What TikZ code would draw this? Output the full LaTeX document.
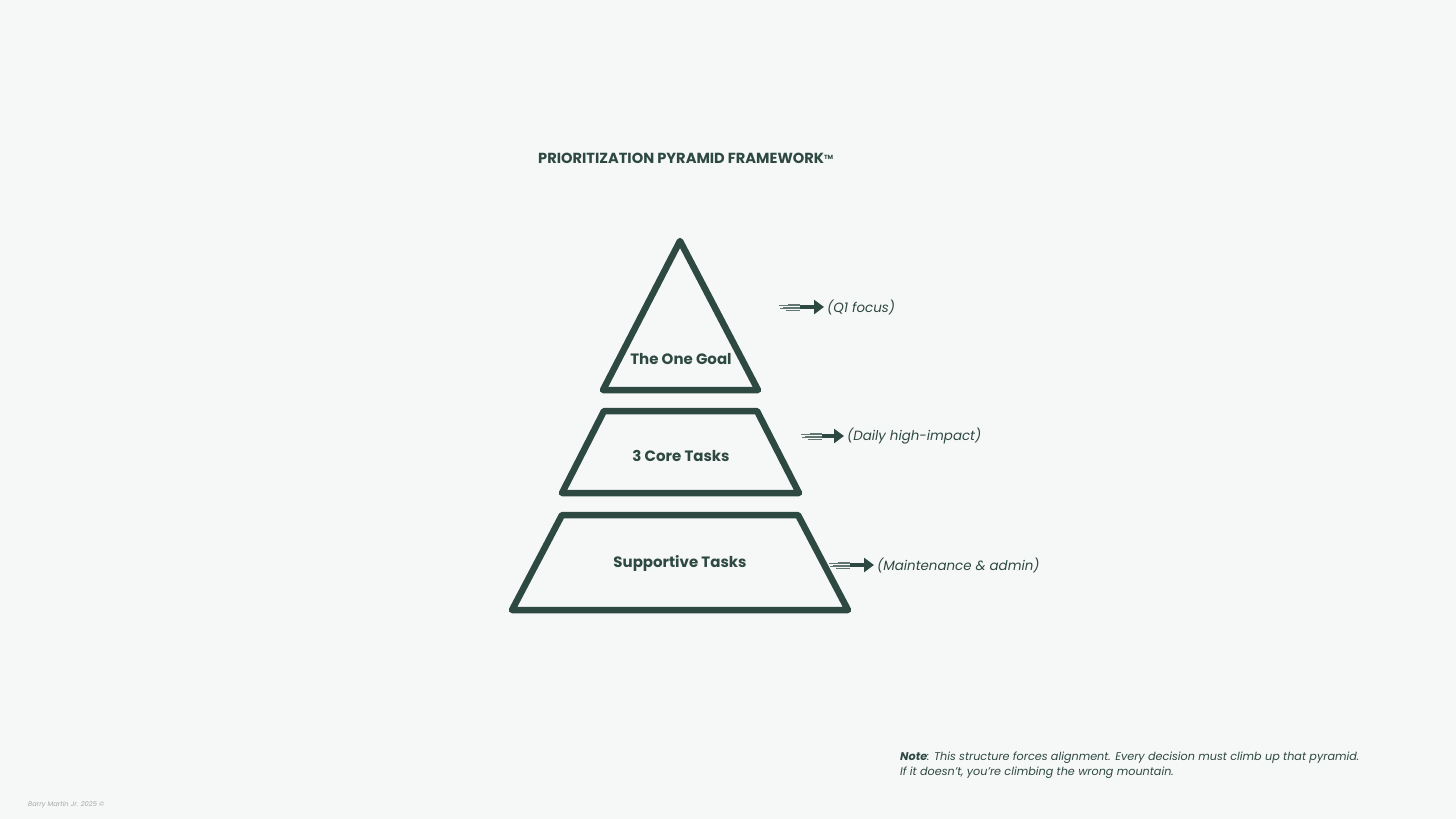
\documentclass[tikz,border=0pt]{standalone}
\usepackage{fontspec}
\setmainfont{Poppins}
\usetikzlibrary{arrows.meta}
\definecolor{pine}{HTML}{2E4842}
\definecolor{paper}{HTML}{F6F8F7}
\begin{document}
\begin{tikzpicture}[x=1pt,y=-1pt]
    % Coordinates are image pixels, y runs downward.
    \tikzset{
      tier/.style={draw=pine,line width=6.5pt,line join=round,fill=paper},
      tierlabel/.style={font=\bfseries\fontsize{15}{18}\selectfont,text=pine},
      remark/.style={font=\itshape\fontsize{13.4}{16}\selectfont,text=pine,anchor=west,inner sep=0pt},
      pointer/.style={draw=pine,line width=4.5pt,-{Triangle[length=10pt,width=14pt]}},
      streak/.style={draw=pine!75,line width=0.7pt}}
    \fill[paper] (0,0) rectangle (1456,819);
    \useasboundingbox (0,0) rectangle (1456,819);
    % Title
    \node[font=\bfseries\fontsize{14.6}{17}\selectfont,text=pine,anchor=west,inner sep=0pt] (title) at (538,158)
      {PRIORITIZATION PYRAMID FRAMEWORK\raisebox{4pt}{\fontsize{6}{6}\selectfont TM}};
    % Three tiers, top to bottom
    \draw[tier] (680,241) -- (758,390) -- (603,390) -- cycle;
    \draw[tier] (604,411) -- (757,411) -- (799,493) -- (562,493) -- cycle;
    \draw[tier] (562,515) -- (798,515) -- (848,610) -- (512,610) -- cycle;
    \node[tierlabel] (goal) at (681,359) {The One Goal};
    \node[tierlabel] (core) at (681,456) {3 Core Tasks};
    \node[tierlabel] (support) at (680,563) {Supportive Tasks};
    % Side notes with streaked arrows
    \node[remark] (q1) at (827,307) {(Q1 focus)};
    \node[remark] (daily) at (847,436) {(Daily high-impact)};
    \node[remark] (admin) at (877,565) {(Maintenance \& admin)};
    \coordinate (q1tail) at (800,307);
    \coordinate (dailytail) at (822,436);
    \coordinate (admintail) at (850,565);
    \foreach \n in {q1,daily,admin} {
      \draw[pointer] (\n tail) -- ([xshift=-3pt]\n.west);
      \foreach \dy/\len in {-3/14,-1.5/20,0/17,1.5/21,3/12}
        \draw[streak] ([yshift=\dy pt]\n tail) -- ++(-\len,0);
    }
    % Note and footer
    \node[anchor=north west,inner sep=0pt,align=left,text=pine,font=\itshape\fontsize{11.2}{15}\selectfont] (note) at (900,752)
      {\textbf{Note}: This structure forces alignment. Every decision must climb up that pyramid.\\
       If it doesn’t, you’re climbing the wrong mountain.};
    \node[anchor=west,inner sep=0pt,text=gray!70,font=\itshape\fontsize{6.7}{8}\selectfont] (credit) at (28,805)
      {Barry Martin Jr. 2025 ©};
  \end{tikzpicture}
\end{document}
